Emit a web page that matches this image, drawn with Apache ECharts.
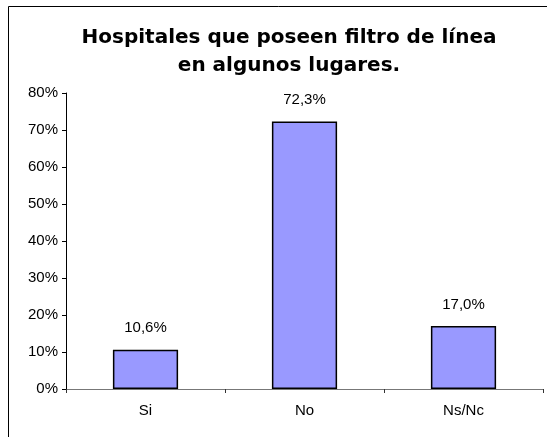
<!DOCTYPE html>
<html>
<head>
<meta charset="utf-8">
<script src="https://cdn.jsdelivr.net/npm/echarts@6/dist/echarts.min.js"></script>
<style>
html,body{margin:0;padding:0;background:#fff;}
#chart{width:547px;height:437px;}
</style>
</head>
<body>
<div id="chart"></div>
<script>
const categories = ["Si", "No", "Ns/Nc"];
const values = [10.6, 72.3, 17.0];
const yTicks = [0, 10, 20, 30, 40, 50, 60, 70, 80];
const titleLines = ["Hospitales que poseen filtro de línea", "en algunos lugares."];

const chart = echarts.init(document.getElementById('chart'), null, {renderer: 'canvas'});
const fontFamily = '"Liberation Sans", Arial, sans-serif';
chart.setOption({
  animation: false,
  backgroundColor: '#ffffff',
  title: {
    text: titleLines.join('\n'),
    left: 284,
    top: 19,
    textAlign: 'center',
    textStyle: {fontFamily: '"DejaVu Sans", Verdana, sans-serif', fontWeight: 'bold', fontSize: 20, lineHeight: 28, color: '#000'}
  },
  graphic: [{
    type: 'rect',
    shape: {x: 8.5, y: 6.5, width: 700, height: 700},
    style: {fill: 'none', stroke: '#000', lineWidth: 1},
    silent: true,
    z: -1
  }],
  grid: {left: 66, right: 4, top: 93, bottom: 48, containLabel: false},
  xAxis: {
    type: 'category',
    data: categories,
    axisLine: {lineStyle: {color: '#777', width: 1}},
    axisTick: {show: true, length: 4, lineStyle: {color: '#333'}},
    axisLabel: {fontFamily: fontFamily, fontSize: 15, color: '#000', margin: 14}
  },
  yAxis: {
    type: 'value',
    min: yTicks[0],
    max: yTicks[yTicks.length - 1],
    interval: yTicks[1] - yTicks[0],
    axisLine: {show: true, lineStyle: {color: '#000', width: 1}},
    axisTick: {show: true, length: 4, inside: false, lineStyle: {color: '#000'}},
    splitLine: {show: false},
    axisLabel: {fontFamily: fontFamily, fontSize: 15, color: '#000', margin: 8, formatter: v => v + '%'}
  },
  series: [{
    type: 'bar',
    data: values,
    barWidth: '41%',
    itemStyle: {color: '#9999FF', borderColor: '#000', borderWidth: 1.5},
    label: {
      show: true,
      position: 'top',
      distance: 14,
      fontFamily: fontFamily,
      fontSize: 15,
      color: '#000',
      formatter: p => p.value.toFixed(1).replace('.', ',') + '%'
    }
  }]
});
</script>
</body>
</html>
